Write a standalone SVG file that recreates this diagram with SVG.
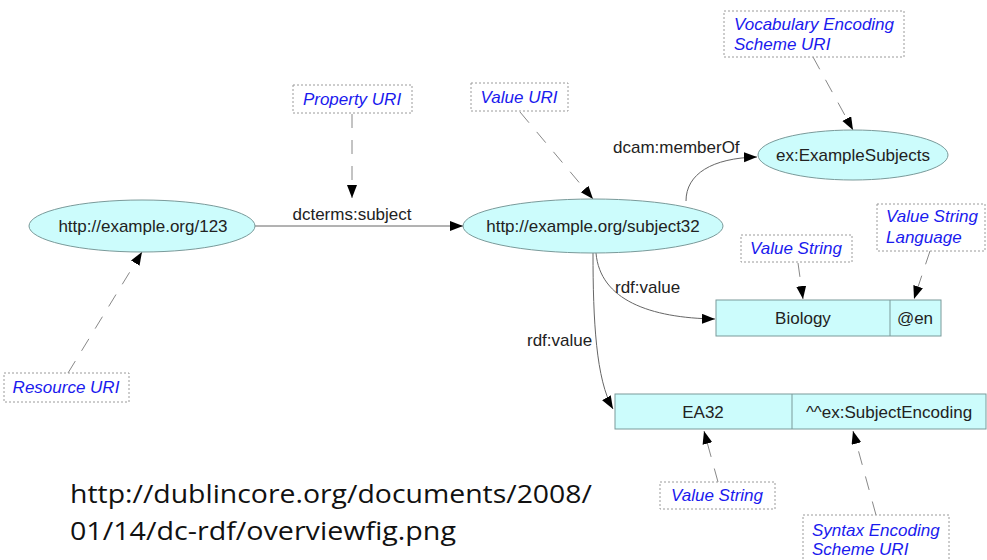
<svg xmlns="http://www.w3.org/2000/svg" width="987" height="560" viewBox="0 0 987 560">
<style>
.node{fill:#ccfcfc;stroke:#7a9a9a;stroke-width:1}
.lbl{font-family:"Liberation Sans",Arial,sans-serif;font-size:17px;fill:#222;text-anchor:middle}
.ann{fill:#fff;stroke:#9a9a9a;stroke-width:1;stroke-dasharray:2,2}
.annt{font-family:"Liberation Sans",Arial,sans-serif;font-size:17px;font-style:italic;fill:#1a1aee}
.edge{fill:none;stroke:#666;stroke-width:1}
.dash{fill:none;stroke:#888;stroke-width:1;stroke-dasharray:14,12}
.elbl{font-family:"Liberation Sans",Arial,sans-serif;font-size:17px;fill:#222}
.url{font-family:"Open Sans","Liberation Sans",sans-serif;font-size:26px;fill:#111}
</style>
<defs>
<marker id="arr" markerUnits="userSpaceOnUse" markerWidth="14" markerHeight="12" refX="13" refY="5" orient="auto">
<path d="M0,0 L13,5 L0,10 z" fill="#000"/>
</marker>
</defs>
<rect width="987" height="560" fill="#fff"/>
<g id="connectors">
<line class="edge" x1="255" y1="226" x2="463" y2="226" marker-end="url(#arr)"/>
<path class="edge" d="M686,201 C686,174 712,158 757,157" marker-end="url(#arr)"/>
<path class="edge" d="M596,253 C600,300 650,318 715,319" marker-end="url(#arr)"/>
<path class="edge" d="M593,253 C593,320 596,380 613,409" marker-end="url(#arr)"/>
<line class="dash" x1="352" y1="114" x2="352" y2="198" marker-end="url(#arr)"/>
<line class="dash" x1="520" y1="112" x2="593" y2="199" marker-end="url(#arr)"/>
<line class="dash" x1="813" y1="57" x2="853" y2="130" marker-end="url(#arr)"/>
<line class="dash" x1="68" y1="373" x2="142" y2="252" marker-end="url(#arr)"/>
<line class="dash" x1="798" y1="263" x2="803" y2="299" marker-end="url(#arr)"/>
<line class="dash" x1="930" y1="251" x2="914" y2="299" marker-end="url(#arr)"/>
<line class="dash" x1="718" y1="482" x2="704" y2="431" marker-end="url(#arr)"/>
<line class="dash" x1="876" y1="515" x2="853" y2="431" marker-end="url(#arr)"/>
<text class="elbl" x="352" y="220" text-anchor="middle">dcterms:subject</text>
<text class="elbl" x="613" y="153">dcam:memberOf</text>
<text class="elbl" x="615" y="293">rdf:value</text>
<text class="elbl" x="527" y="346">rdf:value</text>
</g>
<g id="n-resource">
<ellipse class="node" cx="142" cy="226" rx="113" ry="26"/>
<text class="lbl" x="143" y="232">http://example.org/123</text>
</g>
<g id="n-subject32">
<ellipse class="node" cx="593" cy="226" rx="130" ry="27"/>
<text class="lbl" x="593" y="232">http://example.org/subject32</text>
</g>
<g id="n-examplesubjects">
<ellipse class="node" cx="853" cy="155" rx="95" ry="25"/>
<text class="lbl" x="853" y="161">ex:ExampleSubjects</text>
</g>
<g id="n-biology">
<rect class="node" x="716" y="300" width="225" height="36"/>
<line x1="890" y1="300" x2="890" y2="336" stroke="#7a9a9a"/>
<text class="lbl" x="803" y="324">Biology</text>
<text class="lbl" x="915" y="324">@en</text>
</g>
<g id="n-ea32">
<rect class="node" x="615" y="394" width="371" height="35"/>
<line x1="792" y1="394" x2="792" y2="429" stroke="#7a9a9a"/>
<text class="lbl" x="703" y="418">EA32</text>
<text class="lbl" x="889" y="418">^^ex:SubjectEncoding</text>
</g>
<g id="a-property">
<rect class="ann" x="293" y="85" width="119" height="28"/>
<text class="annt" x="352" y="105" text-anchor="middle">Property URI</text>
</g>
<g id="a-value">
<rect class="ann" x="471" y="83" width="97" height="28"/>
<text class="annt" x="519" y="103" text-anchor="middle">Value URI</text>
</g>
<g id="a-vocab">
<rect class="ann" x="724" y="11" width="180" height="46"/>
<text class="annt" x="734" y="30">Vocabulary Encoding</text>
<text class="annt" x="734" y="50">Scheme URI</text>
</g>
<g id="a-resource">
<rect class="ann" x="4" y="373" width="125" height="29"/>
<text class="annt" x="66" y="393" text-anchor="middle">Resource URI</text>
</g>
<g id="a-valuestring1">
<rect class="ann" x="741" y="235" width="111" height="27"/>
<text class="annt" x="796" y="254" text-anchor="middle">Value String</text>
</g>
<g id="a-language">
<rect class="ann" x="877" y="204" width="108" height="47"/>
<text class="annt" x="886" y="222">Value String</text>
<text class="annt" x="886" y="243">Language</text>
</g>
<g id="a-valuestring2">
<rect class="ann" x="660" y="482" width="115" height="27"/>
<text class="annt" x="717" y="501" text-anchor="middle">Value String</text>
</g>
<g id="a-syntax">
<rect class="ann" x="803" y="515" width="146" height="50"/>
<text class="annt" x="812" y="536">Syntax Encoding</text>
<text class="annt" x="812" y="555">Scheme URI</text>
</g>
<g id="caption">
<text class="url" x="70" y="503" textLength="522" lengthAdjust="spacingAndGlyphs">http://dublincore.org/documents/2008/</text>
<text class="url" x="70" y="540" textLength="386" lengthAdjust="spacingAndGlyphs">01/14/dc-rdf/overviewfig.png</text>
</g>
</svg>
